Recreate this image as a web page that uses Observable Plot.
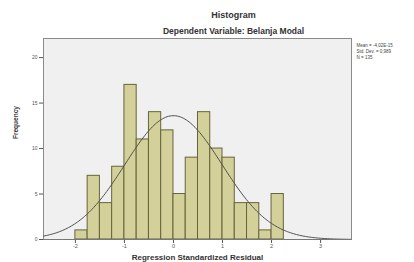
<!DOCTYPE html>
<html>
<head>
<meta charset="utf-8">
<script src="https://cdn.jsdelivr.net/npm/d3@7"></script>
<script src="https://cdn.jsdelivr.net/npm/@observablehq/plot@0.6"></script>
<style>
html,body{margin:0;padding:0;background:#fff;}
#chart svg{display:block;}
</style>
</head>
<body>
<div id="chart"></div>
<script>
// Bin edges (lower/upper) and counts
const binLower = [-2.0,-1.75,-1.5,-1.25,-1.0,-0.75,-0.5,-0.25,0.0,0.25,0.5,0.75,1.0,1.25,1.5,1.75,2.0];
const binUpper = [-1.75,-1.5,-1.25,-1.0,-0.75,-0.5,-0.25,0.0,0.25,0.5,0.75,1.0,1.25,1.5,1.75,2.0,2.25];
const counts   = [1,7,4,8,17,11,14,12,5,9,14,10,9,4,4,1,5];
const xTicks = [-2,-1,0,1,2,3];
const yTicks = [0,5,10,15,20];
const statsLines = ["Mean = -4,02E-15","Std. Dev. = 0,989","N = 135"];
const stMean = 0, stSD = 0.989, stN = 135, binWidth = 0.25;

const bars = binLower.map((b,i)=>({x1:b, x2:binUpper[i], y:counts[i]}));

// fitted normal curve from the shown statistics
const xDomain = [-2.65, 3.63];
const curve = d3.range(xDomain[0], xDomain[1] + 0.001, 0.03).map(x => ({
  x, y: stN * binWidth * Math.exp(-((x-stMean)**2)/(2*stSD*stSD)) / (stSD*Math.sqrt(2*Math.PI))
}));

const font = "Liberation Sans, Arial, sans-serif";
const plot = Plot.plot({
  width: 414, height: 262,
  marginLeft: 43, marginRight: 63, marginTop: 38, marginBottom: 23,
  style: {fontFamily: font, background: "#fff", overflow: "visible"},
  x: {domain: xDomain, ticks: xTicks, tickFormat: d => String(d), label: null},
  y: {domain: [0, 22.1], ticks: yTicks, label: null},
  marks: [
    Plot.frame({fill: "#f0f0f0", stroke: "#8a8a8a", strokeWidth: 1}),
    Plot.rectY(bars, {x1: "x1", x2: "x2", y: "y", fill: "#d4d09a", stroke: "#66643a", strokeWidth: 1}),
    Plot.line(curve, {x: "x", y: "y", stroke: "#505050", strokeWidth: 1}),
    Plot.axisX({ticks: xTicks, tickSize: 4, tickPadding: 1, fontSize: 5.5, stroke: "#555", fill: "#555", tickFormat: d => String(d)}),
    Plot.axisY({ticks: yTicks, tickSize: 4, tickPadding: 2, fontSize: 5, stroke: "#555", fill: "#555"}),
    Plot.ruleY([0], {stroke: "#777"}),
    Plot.text(["Histogram"], {frameAnchor: "top", lineAnchor: "middle", dx: 36, dy: -23, fontSize: 9, fontWeight: "bold", fill: "#333"}),
    Plot.text(["Dependent Variable: Belanja Modal"], {frameAnchor: "top", lineAnchor: "middle", dx: 36, dy: -7, fontSize: 8.5, fontWeight: "bold", fill: "#333"}),
    Plot.text(["Regression Standardized Residual"], {frameAnchor: "bottom", lineAnchor: "middle", dy: 18, fontSize: 8, fontWeight: "bold", fill: "#333"}),
    Plot.text(["Frequency"], {frameAnchor: "left", dx: -28, rotate: -90, fontSize: 6.5, fontWeight: "bold", fill: "#333"}),
    Plot.text([statsLines[0]], {frameAnchor: "top-right", lineAnchor: "middle", dx: 5, dy: 7, textAnchor: "start", fontSize: 4.5, fill: "#444"}),
    Plot.text([statsLines[1]], {frameAnchor: "top-right", lineAnchor: "middle", dx: 5, dy: 13, textAnchor: "start", fontSize: 4.5, fill: "#444"}),
    Plot.text([statsLines[2]], {frameAnchor: "top-right", lineAnchor: "middle", dx: 5, dy: 19, textAnchor: "start", fontSize: 4.5, fill: "#444"})
  ]
});
document.getElementById("chart").appendChild(plot);
</script>
</body>
</html>
